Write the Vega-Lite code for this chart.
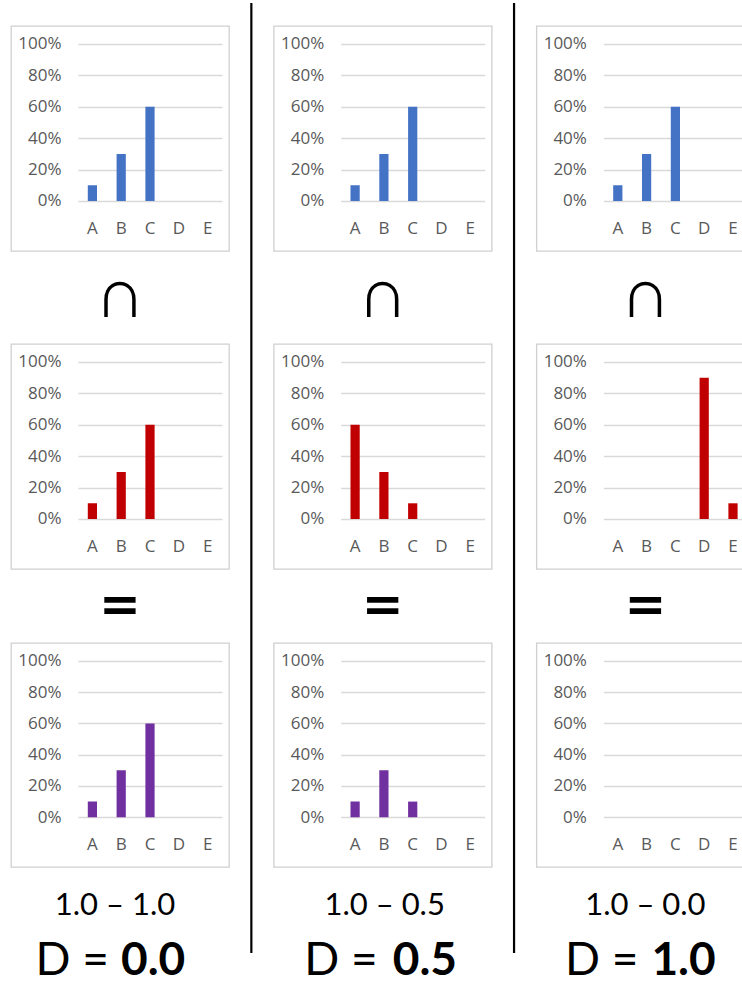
{
  "$schema": "https://vega.github.io/schema/vega-lite/v6.json",
  "padding": {"left": 10, "top": 1, "right": 0, "bottom": 0},
  "spacing": 19.85,
  "background": "white",
  "config": {
    "view": {"stroke": null},
    "axis": {"labelFont": "Open Sans", "labelFontSize": 17, "labelColor": "#595959", "domain": false, "ticks": false, "tickSize": 0},
    "axisX": {"labelAngle": 0, "labelPadding": 19, "grid": false, "offset": -50},
    "axisY": {"labelPadding": -50, "offset": 0, "grid": true, "gridColor": "#d9d9d9", "gridWidth": 1.3}
  },
  "datasets": {
    "shares": [
      {"col": 1, "role": "first", "cat": "A", "share": 0.1},
      {"col": 1, "role": "first", "cat": "B", "share": 0.3},
      {"col": 1, "role": "first", "cat": "C", "share": 0.6},
      {"col": 1, "role": "first", "cat": "D", "share": 0},
      {"col": 1, "role": "first", "cat": "E", "share": 0},
      {"col": 1, "role": "second", "cat": "A", "share": 0.1},
      {"col": 1, "role": "second", "cat": "B", "share": 0.3},
      {"col": 1, "role": "second", "cat": "C", "share": 0.6},
      {"col": 1, "role": "second", "cat": "D", "share": 0},
      {"col": 1, "role": "second", "cat": "E", "share": 0},
      {"col": 1, "role": "overlap", "cat": "A", "share": 0.1},
      {"col": 1, "role": "overlap", "cat": "B", "share": 0.3},
      {"col": 1, "role": "overlap", "cat": "C", "share": 0.6},
      {"col": 1, "role": "overlap", "cat": "D", "share": 0},
      {"col": 1, "role": "overlap", "cat": "E", "share": 0},
      {"col": 2, "role": "first", "cat": "A", "share": 0.1},
      {"col": 2, "role": "first", "cat": "B", "share": 0.3},
      {"col": 2, "role": "first", "cat": "C", "share": 0.6},
      {"col": 2, "role": "first", "cat": "D", "share": 0},
      {"col": 2, "role": "first", "cat": "E", "share": 0},
      {"col": 2, "role": "second", "cat": "A", "share": 0.6},
      {"col": 2, "role": "second", "cat": "B", "share": 0.3},
      {"col": 2, "role": "second", "cat": "C", "share": 0.1},
      {"col": 2, "role": "second", "cat": "D", "share": 0},
      {"col": 2, "role": "second", "cat": "E", "share": 0},
      {"col": 2, "role": "overlap", "cat": "A", "share": 0.1},
      {"col": 2, "role": "overlap", "cat": "B", "share": 0.3},
      {"col": 2, "role": "overlap", "cat": "C", "share": 0.1},
      {"col": 2, "role": "overlap", "cat": "D", "share": 0},
      {"col": 2, "role": "overlap", "cat": "E", "share": 0},
      {"col": 3, "role": "first", "cat": "A", "share": 0.1},
      {"col": 3, "role": "first", "cat": "B", "share": 0.3},
      {"col": 3, "role": "first", "cat": "C", "share": 0.6},
      {"col": 3, "role": "first", "cat": "D", "share": 0},
      {"col": 3, "role": "first", "cat": "E", "share": 0},
      {"col": 3, "role": "second", "cat": "A", "share": 0},
      {"col": 3, "role": "second", "cat": "B", "share": 0},
      {"col": 3, "role": "second", "cat": "C", "share": 0},
      {"col": 3, "role": "second", "cat": "D", "share": 0.9},
      {"col": 3, "role": "second", "cat": "E", "share": 0.1},
      {"col": 3, "role": "overlap", "cat": "A", "share": 0},
      {"col": 3, "role": "overlap", "cat": "B", "share": 0},
      {"col": 3, "role": "overlap", "cat": "C", "share": 0},
      {"col": 3, "role": "overlap", "cat": "D", "share": 0},
      {"col": 3, "role": "overlap", "cat": "E", "share": 0}
    ],
    "summary": [
      {"col": 1, "diff": "1.0 – 1.0", "lhs": "D =", "d": "0.0"},
      {"col": 2, "diff": "1.0 – 0.5", "lhs": "D =", "d": "0.5"},
      {"col": 3, "diff": "1.0 – 0.0", "lhs": "D =", "d": "1.0"}
    ],
    "ops": [
      {"op": "∩"},
      {"op": "="}
    ],
    "separator": [
      {"line": "column separator"}
    ]
  },
  "hconcat": [
    {
      "spacing": 0,
      "vconcat": [
        {"width": 218, "height": 22, "data": {"values": []}, "mark": "text", "encoding": {}},
        {
          "width": 218, "height": 225,
          "view": {"stroke": "#d0d0d0", "strokeWidth": 1.3},
          "data": {"name": "shares"},
          "transform": [{"filter": "datum.col == 1 && datum.role == 'first'"}],
          "mark": {"type": "bar", "width": {"band": 0.32}, "color": "#4472C4"},
          "encoding": {
            "x": {"field": "cat", "type": "nominal", "title": null, "scale": {"domain": ["A", "B", "C", "D", "E"], "range": [67, 211], "paddingInner": 0, "paddingOuter": 0}},
            "y": {"field": "share", "type": "quantitative", "title": null, "scale": {"domain": [-0.3185, 1.1146], "nice": false, "zero": false}, "axis": {"values": [0, 0.2, 0.4, 0.6, 0.8, 1], "format": "%"}}
          }
        },
        {
          "width": 218, "height": 91,
          "data": {"name": "ops"},
          "transform": [{"filter": "datum.op == '∩'"}],
          "mark": {"type": "text", "font": "Liberation Sans", "fontSize": 70, "baseline": "middle", "color": "black", "dy": -2},
          "encoding": {"text": {"field": "op"}}
        },
        {
          "width": 218, "height": 225,
          "view": {"stroke": "#d0d0d0", "strokeWidth": 1.3},
          "data": {"name": "shares"},
          "transform": [{"filter": "datum.col == 1 && datum.role == 'second'"}],
          "mark": {"type": "bar", "width": {"band": 0.32}, "color": "#C00000"},
          "encoding": {
            "x": {"field": "cat", "type": "nominal", "title": null, "scale": {"domain": ["A", "B", "C", "D", "E"], "range": [67, 211], "paddingInner": 0, "paddingOuter": 0}},
            "y": {"field": "share", "type": "quantitative", "title": null, "scale": {"domain": [-0.3185, 1.1146], "nice": false, "zero": false}, "axis": {"values": [0, 0.2, 0.4, 0.6, 0.8, 1], "format": "%"}}
          }
        },
        {
          "width": 218, "height": 72,
          "data": {"name": "ops"},
          "transform": [{"filter": "datum.op == '='"}],
          "mark": {"type": "text", "font": "DejaVu Sans", "fontSize": 50, "fontWeight": "bold", "baseline": "middle", "color": "black", "dy": 0},
          "encoding": {"text": {"field": "op"}}
        },
        {
          "width": 218, "height": 224,
          "view": {"stroke": "#d0d0d0", "strokeWidth": 1.3},
          "data": {"name": "shares"},
          "transform": [{"filter": "datum.col == 1 && datum.role == 'overlap'"}],
          "mark": {"type": "bar", "width": {"band": 0.32}, "color": "#7030A0"},
          "encoding": {
            "x": {"field": "cat", "type": "nominal", "title": null, "scale": {"domain": ["A", "B", "C", "D", "E"], "range": [67, 211], "paddingInner": 0, "paddingOuter": 0}},
            "y": {"field": "share", "type": "quantitative", "title": null, "scale": {"domain": [-0.3185, 1.1146], "nice": false, "zero": false}, "axis": {"values": [0, 0.2, 0.4, 0.6, 0.8, 1], "format": "%"}}
          }
        },
        {
          "width": 218, "height": 115,
          "data": {"name": "summary"},
          "transform": [{"filter": "datum.col == 1"}],
          "layer": [
            {"mark": {"type": "text", "font": "Lato", "fontSize": 31, "baseline": "alphabetic", "color": "black", "dx": -5, "dy": -10.5}, "encoding": {"text": {"field": "diff"}}},
            {"mark": {"type": "text", "font": "Lato", "fontSize": 46, "baseline": "alphabetic", "align": "right", "color": "black", "dx": -11, "dy": 49.5}, "encoding": {"text": {"field": "lhs"}}},
            {"mark": {"type": "text", "font": "Lato", "fontSize": 46, "fontWeight": "bold", "baseline": "alphabetic", "align": "left", "color": "black", "dx": 1, "dy": 49.5}, "encoding": {"text": {"field": "d"}}}
          ]
        }
      ]
    },
    {
      "width": 3, "height": 950,
      "data": {"name": "separator"},
      "mark": {"type": "rule", "color": "black", "strokeWidth": 2.2},
      "encoding": {
        "y": {"datum": 0, "type": "quantitative", "scale": {"domain": [0, 1]}, "axis": null},
        "y2": {"datum": 1}
      }
    },
    {
      "spacing": 0,
      "vconcat": [
        {"width": 218, "height": 22, "data": {"values": []}, "mark": "text", "encoding": {}},
        {
          "width": 218, "height": 225,
          "view": {"stroke": "#d0d0d0", "strokeWidth": 1.3},
          "data": {"name": "shares"},
          "transform": [{"filter": "datum.col == 2 && datum.role == 'first'"}],
          "mark": {"type": "bar", "width": {"band": 0.32}, "color": "#4472C4"},
          "encoding": {
            "x": {"field": "cat", "type": "nominal", "title": null, "scale": {"domain": ["A", "B", "C", "D", "E"], "range": [67, 211], "paddingInner": 0, "paddingOuter": 0}},
            "y": {"field": "share", "type": "quantitative", "title": null, "scale": {"domain": [-0.3185, 1.1146], "nice": false, "zero": false}, "axis": {"values": [0, 0.2, 0.4, 0.6, 0.8, 1], "format": "%"}}
          }
        },
        {
          "width": 218, "height": 91,
          "data": {"name": "ops"},
          "transform": [{"filter": "datum.op == '∩'"}],
          "mark": {"type": "text", "font": "Liberation Sans", "fontSize": 70, "baseline": "middle", "color": "black", "dy": -2},
          "encoding": {"text": {"field": "op"}}
        },
        {
          "width": 218, "height": 225,
          "view": {"stroke": "#d0d0d0", "strokeWidth": 1.3},
          "data": {"name": "shares"},
          "transform": [{"filter": "datum.col == 2 && datum.role == 'second'"}],
          "mark": {"type": "bar", "width": {"band": 0.32}, "color": "#C00000"},
          "encoding": {
            "x": {"field": "cat", "type": "nominal", "title": null, "scale": {"domain": ["A", "B", "C", "D", "E"], "range": [67, 211], "paddingInner": 0, "paddingOuter": 0}},
            "y": {"field": "share", "type": "quantitative", "title": null, "scale": {"domain": [-0.3185, 1.1146], "nice": false, "zero": false}, "axis": {"values": [0, 0.2, 0.4, 0.6, 0.8, 1], "format": "%"}}
          }
        },
        {
          "width": 218, "height": 72,
          "data": {"name": "ops"},
          "transform": [{"filter": "datum.op == '='"}],
          "mark": {"type": "text", "font": "DejaVu Sans", "fontSize": 50, "fontWeight": "bold", "baseline": "middle", "color": "black", "dy": 0},
          "encoding": {"text": {"field": "op"}}
        },
        {
          "width": 218, "height": 224,
          "view": {"stroke": "#d0d0d0", "strokeWidth": 1.3},
          "data": {"name": "shares"},
          "transform": [{"filter": "datum.col == 2 && datum.role == 'overlap'"}],
          "mark": {"type": "bar", "width": {"band": 0.32}, "color": "#7030A0"},
          "encoding": {
            "x": {"field": "cat", "type": "nominal", "title": null, "scale": {"domain": ["A", "B", "C", "D", "E"], "range": [67, 211], "paddingInner": 0, "paddingOuter": 0}},
            "y": {"field": "share", "type": "quantitative", "title": null, "scale": {"domain": [-0.3185, 1.1146], "nice": false, "zero": false}, "axis": {"values": [0, 0.2, 0.4, 0.6, 0.8, 1], "format": "%"}}
          }
        },
        {
          "width": 218, "height": 115,
          "data": {"name": "summary"},
          "transform": [{"filter": "datum.col == 2"}],
          "layer": [
            {"mark": {"type": "text", "font": "Lato", "fontSize": 31, "baseline": "alphabetic", "color": "black", "dx": 2, "dy": -10.5}, "encoding": {"text": {"field": "diff"}}},
            {"mark": {"type": "text", "font": "Lato", "fontSize": 46, "baseline": "alphabetic", "align": "right", "color": "black", "dx": -5, "dy": 49.5}, "encoding": {"text": {"field": "lhs"}}},
            {"mark": {"type": "text", "font": "Lato", "fontSize": 46, "fontWeight": "bold", "baseline": "alphabetic", "align": "left", "color": "black", "dx": 10, "dy": 49.5}, "encoding": {"text": {"field": "d"}}}
          ]
        }
      ]
    },
    {
      "width": 3, "height": 950,
      "data": {"name": "separator"},
      "mark": {"type": "rule", "color": "black", "strokeWidth": 2.2},
      "encoding": {
        "y": {"datum": 0, "type": "quantitative", "scale": {"domain": [0, 1]}, "axis": null},
        "y2": {"datum": 1}
      }
    },
    {
      "spacing": 0,
      "vconcat": [
        {"width": 218, "height": 22, "data": {"values": []}, "mark": "text", "encoding": {}},
        {
          "width": 218, "height": 225,
          "view": {"stroke": "#d0d0d0", "strokeWidth": 1.3},
          "data": {"name": "shares"},
          "transform": [{"filter": "datum.col == 3 && datum.role == 'first'"}],
          "mark": {"type": "bar", "width": {"band": 0.32}, "color": "#4472C4"},
          "encoding": {
            "x": {"field": "cat", "type": "nominal", "title": null, "scale": {"domain": ["A", "B", "C", "D", "E"], "range": [67, 211], "paddingInner": 0, "paddingOuter": 0}},
            "y": {"field": "share", "type": "quantitative", "title": null, "scale": {"domain": [-0.3185, 1.1146], "nice": false, "zero": false}, "axis": {"values": [0, 0.2, 0.4, 0.6, 0.8, 1], "format": "%"}}
          }
        },
        {
          "width": 218, "height": 91,
          "data": {"name": "ops"},
          "transform": [{"filter": "datum.op == '∩'"}],
          "mark": {"type": "text", "font": "Liberation Sans", "fontSize": 70, "baseline": "middle", "color": "black", "dy": -2},
          "encoding": {"text": {"field": "op"}}
        },
        {
          "width": 218, "height": 225,
          "view": {"stroke": "#d0d0d0", "strokeWidth": 1.3},
          "data": {"name": "shares"},
          "transform": [{"filter": "datum.col == 3 && datum.role == 'second'"}],
          "mark": {"type": "bar", "width": {"band": 0.32}, "color": "#C00000"},
          "encoding": {
            "x": {"field": "cat", "type": "nominal", "title": null, "scale": {"domain": ["A", "B", "C", "D", "E"], "range": [67, 211], "paddingInner": 0, "paddingOuter": 0}},
            "y": {"field": "share", "type": "quantitative", "title": null, "scale": {"domain": [-0.3185, 1.1146], "nice": false, "zero": false}, "axis": {"values": [0, 0.2, 0.4, 0.6, 0.8, 1], "format": "%"}}
          }
        },
        {
          "width": 218, "height": 72,
          "data": {"name": "ops"},
          "transform": [{"filter": "datum.op == '='"}],
          "mark": {"type": "text", "font": "DejaVu Sans", "fontSize": 50, "fontWeight": "bold", "baseline": "middle", "color": "black", "dy": 0},
          "encoding": {"text": {"field": "op"}}
        },
        {
          "width": 218, "height": 224,
          "view": {"stroke": "#d0d0d0", "strokeWidth": 1.3},
          "data": {"name": "shares"},
          "transform": [{"filter": "datum.col == 3 && datum.role == 'overlap'"}],
          "mark": {"type": "bar", "width": {"band": 0.32}, "color": "#7030A0"},
          "encoding": {
            "x": {"field": "cat", "type": "nominal", "title": null, "scale": {"domain": ["A", "B", "C", "D", "E"], "range": [67, 211], "paddingInner": 0, "paddingOuter": 0}},
            "y": {"field": "share", "type": "quantitative", "title": null, "scale": {"domain": [-0.3185, 1.1146], "nice": false, "zero": false}, "axis": {"values": [0, 0.2, 0.4, 0.6, 0.8, 1], "format": "%"}}
          }
        },
        {
          "width": 218, "height": 115,
          "data": {"name": "summary"},
          "transform": [{"filter": "datum.col == 3"}],
          "layer": [
            {"mark": {"type": "text", "font": "Lato", "fontSize": 31, "baseline": "alphabetic", "color": "black", "dx": 0, "dy": -10.5}, "encoding": {"text": {"field": "diff"}}},
            {"mark": {"type": "text", "font": "Lato", "fontSize": 46, "baseline": "alphabetic", "align": "right", "color": "black", "dx": -7, "dy": 49.5}, "encoding": {"text": {"field": "lhs"}}},
            {"mark": {"type": "text", "font": "Lato", "fontSize": 46, "fontWeight": "bold", "baseline": "alphabetic", "align": "left", "color": "black", "dx": 6, "dy": 49.5}, "encoding": {"text": {"field": "d"}}}
          ]
        }
      ]
    }
  ]
}
